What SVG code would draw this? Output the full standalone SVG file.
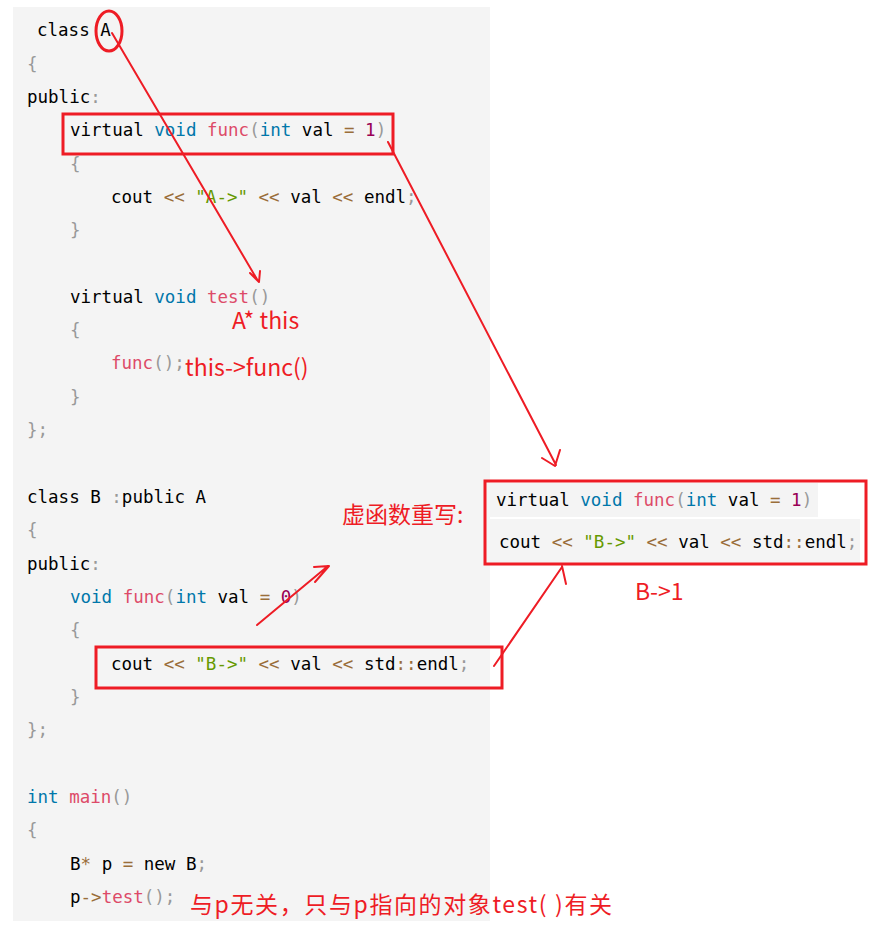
<svg xmlns="http://www.w3.org/2000/svg" width="886" height="934" viewBox="0 0 886 934">
<style>
.c{font-family:"DejaVu Sans Mono","Liberation Mono",monospace;font-size:17.5px;fill:#000;white-space:pre}
.k{fill:#0077aa}.f{fill:#dd4a68}.s{fill:#669900}.n{fill:#990055}.o{fill:#9a6e3a}.p{fill:#999}
.r{fill:none;stroke:#ee1c25;stroke-width:3}
.a{fill:none;stroke:#ee1c25;stroke-width:2;stroke-linecap:round;stroke-linejoin:round}
.l{font-family:"Microsoft YaHei","Noto Sans CJK SC",sans-serif;fill:#ee1c25;font-size:23px}
</style>
<rect width="886" height="934" fill="#fff"/>
<rect x="13" y="7" width="477" height="914" fill="#f4f4f4"/>
<g id="code">
<text class="c" x="37" y="36">class A</text>
<text class="c p" x="27" y="70">{</text>
<text class="c" x="27" y="103">public<tspan class="p">:</tspan></text>
<text class="c" x="70" y="136">virtual <tspan class="k">void</tspan> <tspan class="f">func</tspan><tspan class="p">(</tspan><tspan class="k">int</tspan> val <tspan class="o">=</tspan> <tspan class="n">1</tspan><tspan class="p">)</tspan></text>
<text class="c p" x="70" y="170">{</text>
<text class="c" x="111" y="203">cout <tspan class="o">&lt;&lt;</tspan> <tspan class="s">"A-&gt;"</tspan> <tspan class="o">&lt;&lt;</tspan> val <tspan class="o">&lt;&lt;</tspan> endl<tspan class="p">;</tspan></text>
<text class="c p" x="70" y="236">}</text>
<text class="c" x="70" y="303">virtual <tspan class="k">void</tspan> <tspan class="f">test</tspan><tspan class="p">()</tspan></text>
<text class="c p" x="70" y="336">{</text>
<text class="c f" x="111" y="369">func<tspan class="p">();</tspan></text>
<text class="c p" x="70" y="403">}</text>
<text class="c p" x="27" y="436">};</text>
<text class="c" x="27" y="503">class B <tspan class="p">:</tspan>public A</text>
<text class="c p" x="27" y="536">{</text>
<text class="c" x="27" y="570">public<tspan class="p">:</tspan></text>
<text class="c k" x="70" y="603">void <tspan class="f">func</tspan><tspan class="p">(</tspan>int <tspan fill="#000">val</tspan> <tspan class="o">=</tspan> <tspan class="n">0</tspan><tspan class="p">)</tspan></text>
<text class="c p" x="70" y="636">{</text>
<text class="c" x="111" y="670">cout <tspan class="o">&lt;&lt;</tspan> <tspan class="s">"B-&gt;"</tspan> <tspan class="o">&lt;&lt;</tspan> val <tspan class="o">&lt;&lt;</tspan> std<tspan class="o">::</tspan>endl<tspan class="p">;</tspan></text>
<text class="c p" x="70" y="703">}</text>
<text class="c p" x="27" y="736">};</text>
<text class="c k" x="27" y="803">int <tspan class="f">main</tspan><tspan class="p">()</tspan></text>
<text class="c p" x="27" y="836">{</text>
<text class="c" x="70" y="870">B<tspan class="o">*</tspan> p <tspan class="o">=</tspan> new B<tspan class="p">;</tspan></text>
<text class="c" x="70" y="903">p<tspan class="o">-&gt;</tspan><tspan class="f">test</tspan><tspan class="p">();</tspan></text>
</g>
<g id="override-box">
<rect x="488" y="483" width="330" height="34" fill="#f4f4f4"/>
<rect x="488" y="519" width="372" height="45" fill="#f4f4f4"/>
<text class="c" x="496" y="506">virtual <tspan class="k">void</tspan> <tspan class="f">func</tspan><tspan class="p">(</tspan><tspan class="k">int</tspan> val <tspan class="o">=</tspan> <tspan class="n">1</tspan><tspan class="p">)</tspan></text>
<text class="c" x="499" y="548">cout <tspan class="o">&lt;&lt;</tspan> <tspan class="s">"B-&gt;"</tspan> <tspan class="o">&lt;&lt;</tspan> val <tspan class="o">&lt;&lt;</tspan> std<tspan class="o">::</tspan>endl<tspan class="p">;</tspan></text>
<rect class="r" x="485" y="481" width="381" height="83"/>
</g>
<g id="highlights">
<ellipse class="r" cx="109" cy="31" rx="13" ry="20" stroke-width="2"/>
<rect class="r" x="63" y="114" width="330" height="40"/>
<rect class="r" x="96" y="647" width="406" height="41"/>
</g>
<g id="connectors">
<path class="a" d="M112 33 L258 281 M250 273 L259 282 L260 271"/>
<path class="a" d="M388 142 L556 465 M542 458 L555 466 L560 450"/>
<path class="a" d="M257 625 L328 566 M314 567 L329 566 L315 582"/>
<path class="a" d="M494 666 L562 567 M562 566 L566 584"/>
</g>
<g id="labels">
<text class="l" x="232" y="329">A* this</text>
<text class="l" x="185" y="376">this-&gt;func()</text>
<text class="l" x="342" y="523">虚函数重写:</text>
<text class="l" x="635" y="600">B-&gt;1</text>
<text class="l" x="190" y="913" font-size="24" textLength="422">与p无关，只与p指向的对象test( )有关</text>
</g>
</svg>
